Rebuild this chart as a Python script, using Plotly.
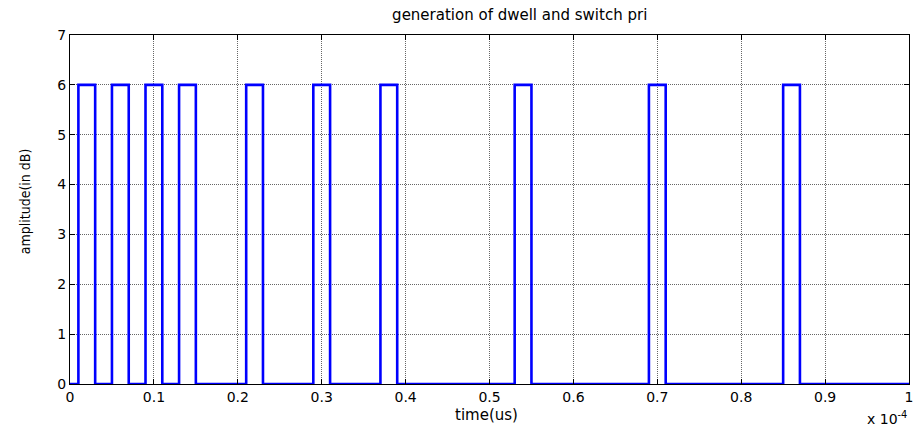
import plotly.graph_objects as go

# pulse start/end times (units of 1e-4 s) and amplitude
pulse_start = [0.01, 0.05, 0.09, 0.13, 0.21, 0.29, 0.37, 0.53, 0.69, 0.85]
pulse_end = [0.03, 0.07, 0.11, 0.15, 0.23, 0.31, 0.39, 0.55, 0.71, 0.87]
amplitude = 6
t_end = 1.0

xs, ys = [0.0], [0]
for s, e in zip(pulse_start, pulse_end):
    xs += [s, s, e, e]
    ys += [0, amplitude, amplitude, 0]
xs.append(t_end)
ys.append(0)

x_ticks = [0, 0.1, 0.2, 0.3, 0.4, 0.5, 0.6, 0.7, 0.8, 0.9, 1]
x_tick_text = ["0", "0.1", "0.2", "0.3", "0.4", "0.5", "0.6", "0.7", "0.8", "0.9", "1"]
y_ticks = [0, 1, 2, 3, 4, 5, 6, 7]

W, H = 916, 429
L, R, T, B = 70, 3, 35, 45
pw, ph = W - L - R, H - T - B

fig = go.Figure()
fig.add_trace(go.Scatter(x=xs, y=ys, mode="lines",
                         line=dict(color="#0000ff", width=2.6), hoverinfo="skip"))

font = "DejaVu Sans, Verdana, sans-serif"
axis_common = dict(showline=True, linecolor="black", linewidth=1.3, mirror="allticks",
                   ticks="inside", ticklen=5, tickcolor="black",
                   showgrid=True, gridcolor="#666666", griddash="1px,1px", gridwidth=1,
                   zeroline=False, ticklabeloverflow="allow",
                   tickfont=dict(family=font, size=14, color="black"))

fig.update_layout(
    width=W, height=H,
    margin=dict(l=L, r=R, t=T, b=B),
    paper_bgcolor="white", plot_bgcolor="white",
    showlegend=False,
    title=dict(text="generation of dwell and switch pri", x=491 / W, xanchor="center",
               xref="paper", y=1 - 15 / H, yanchor="middle",
               font=dict(family=font, size=15, color="black")),
    xaxis=dict(range=[0, 1], tickvals=x_ticks, ticktext=x_tick_text, **axis_common),
    yaxis=dict(range=[0, 7], tickvals=y_ticks, **axis_common),
)

# axis titles placed to match reference positions
fig.add_annotation(xref="paper", yref="paper", x=(488 - L) / pw, y=-(415 - (T + ph)) / ph,
                   xanchor="center", yanchor="middle", text="time(us)", showarrow=False,
                   font=dict(family=font, size=15, color="black"))
fig.add_annotation(xref="paper", yref="paper", x=-(L - 25) / pw, y=(T + ph - 201) / ph,
                   xanchor="center", yanchor="middle", text="amplitude(in dB)", textangle=-90,
                   showarrow=False,
                   font=dict(family="Liberation Sans Narrow, DejaVu Sans Condensed, Arial Narrow, sans-serif",
                             size=14, color="black"))
fig.add_annotation(xref="paper", yref="paper", x=(913 - L) / pw, y=-(429 - (T + ph)) / ph,
                   xanchor="right", yanchor="bottom",
                   text="x 10<sup>-4</sup>", showarrow=False,
                   font=dict(family=font, size=14, color="black"))

fig.write_html("out.html")
